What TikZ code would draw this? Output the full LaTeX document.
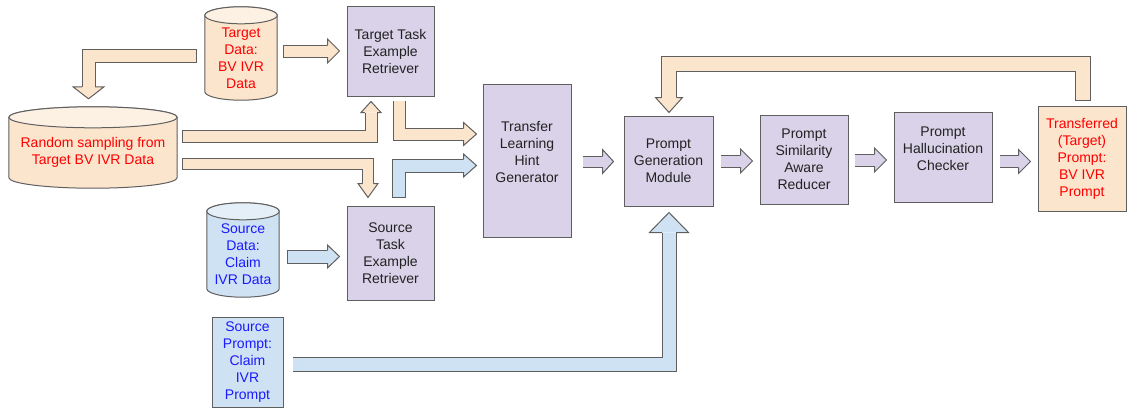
\documentclass[tikz,border=0pt]{standalone}
\usepackage{fontspec}
\setmainfont{Liberation Sans}
\usetikzlibrary{calc,backgrounds}

\definecolor{lav}{HTML}{D9D2E9}
\definecolor{orfill}{HTML}{FCE5CD}
\definecolor{blfill}{HTML}{CFE2F3}
\definecolor{rimgray}{HTML}{5F5F5F}
\definecolor{ink}{HTML}{222222}
\definecolor{redink}{HTML}{FF0000}
\definecolor{blueink}{HTML}{1A1AFF}

% body of a block arrow: fill colour, half width, centre line
\newcommand{\pipe}[3]{%
  \draw[draw=rimgray, line width={2*#2pt+1pt}, line join=miter] #3;
  \draw[draw=#1, line width={2*#2pt-1pt}, line join=miter, shorten <=0.5pt] #3;}
% head of a block arrow: fill, base point, angle, half body, half head, length
\newcommand{\tip}[6]{%
  \filldraw[arrowline, fill=#1, shift={(#2)}, rotate=#3]
    (0,#4) -- (0,#5) -- (#6,0) -- (0,-#5) -- (0,-#4);}
% cylinder round a node: node, y radius, body fill, cap fill
\newcommand{\drum}[4]{%
  \draw[arrowline, fill=#3] let \p1=(#1.north west), \p2=(#1.south east), \n1={(\x2-\x1)/2} in
    (\x1,\y1) -- (\x1,\y2+#2pt) arc[start angle=180, end angle=360, x radius=\n1, y radius=#2pt]
    -- (\x2,\y1) arc[start angle=0, end angle=180, x radius=\n1, y radius=#2pt] -- cycle;
  \draw[arrowline, fill=#4] let \p1=(#1.north west), \p2=(#1.south east), \n1={(\x2-\x1)/2} in
    (#1.north) ellipse[x radius=\n1, y radius=#2pt];}

\begin{document}
\begin{tikzpicture}[x=1pt, y=-1pt,
    box/.style={draw=rimgray, line width=1pt, fill=lav, text=ink, align=center,
      inner sep=0pt, font=\fontsize{14}{17}\selectfont},
    drumtext/.style={align=center, inner sep=0pt, font=\fontsize{14}{17}\selectfont},
    arrowline/.style={draw=rimgray, line width=1pt, line join=miter}]
  \useasboundingbox (0,0) rectangle (1127,410);

  % data stores and inputs
  \node[drumtext, text=redink, minimum width=72pt, minimum height=84.5pt] (tdata) at (241,57.75) {Target\\Data:\\BV IVR\\Data};
  \node[drumtext, text=redink, minimum width=168pt, minimum height=70.5pt] (rand) at (93,152.75) {Random sampling from\\Target BV IVR Data};
  \node[drumtext, text=blueink, minimum width=72pt, minimum height=85.5pt] (sdata) at (243,254.25) {Source\\Data:\\Claim\\IVR Data};
  \node[box, fill=blfill, text=blueink, minimum width=71pt, minimum height=90pt] (sprompt) at (247.5,362) {Source\\Prompt:\\Claim\\IVR\\Prompt};

  % pipeline blocks
  \node[box, minimum width=87pt, minimum height=90pt] (tter) at (390.5,51) {Target Task\\Example\\Retriever};
  \node[box, minimum width=87pt, minimum height=94pt] (ster) at (390.5,253) {Source\\Task\\Example\\Retriever};
  \node[box, minimum width=88pt, minimum height=153pt] (tlhg) at (527,160.5) {Transfer\\Learning\\Hint\\Generator\\\mbox{}};
  \node[box, minimum width=89pt, minimum height=90pt] (pgm) at (668.5,161) {Prompt\\Generation\\Module};
  \node[box, minimum width=88pt, minimum height=89pt] (psar) at (804,159.5) {Prompt\\Similarity\\Aware\\Reducer};
  \node[box, minimum width=98pt, minimum height=90pt] (phc) at (943,157) {Prompt\\Hallucination\\Checker\\\mbox{}};
  \node[box, fill=orfill, text=redink, minimum width=88pt, minimum height=105pt] (trans) at (1082,158.5) {Transferred\\(Target)\\Prompt:\\BV IVR\\Prompt};

  \begin{pgfonlayer}{background}
    \drum{tdata}{8.5}{orfill}{orfill!55!white}
    \drum{rand}{10.5}{orfill}{orfill!55!white}
    \drum{sdata}{8.5}{blfill}{blfill!55!white}
  \end{pgfonlayer}

  % straight arrows
  \pipe{orfill}{6}{($(tdata.east)+(6,-6.75)$) -- ($(tter.west)+(-19,0)$) coordinate (b1)}
  \tip{orfill}{b1}{0}{6}{12}{12}
  \pipe{blfill}{6.5}{($(sdata.east)+(8,2.25)$) -- ($(ster.west)+(-19,3.5)$) coordinate (b2)}
  \tip{blfill}{b2}{0}{6.5}{11.5}{12}
  \pipe{lav}{5.5}{($(tlhg.east)+(11,1)$) -- ($(pgm.west)+(-21,0.5)$) coordinate (b3)}
  \tip{lav}{b3}{0}{5.5}{12}{11}
  \pipe{lav}{6}{($(pgm.east)+(7,0)$) -- ($(psar.west)+(-19,1.5)$) coordinate (b4)}
  \tip{lav}{b4}{0}{6}{12}{12}
  \pipe{lav}{6}{($(psar.east)+(6,0.5)$) -- ($(phc.west)+(-19,3)$) coordinate (b5)}
  \tip{lav}{b5}{0}{6}{12}{12}
  \pipe{lav}{6}{($(phc.east)+(7,4.5)$) -- ($(trans.west)+(-19,3)$) coordinate (b6)}
  \tip{lav}{b6}{0}{6}{12}{12}

  % bent arrows
  \pipe{orfill}{6.5}{($(tdata.west)+(-8,-1.75)$) -| ($(rand.north)+(-4.5,-30.5)$) coordinate (b7)}
  \tip{orfill}{b7}{-90}{6.5}{15.5}{12}
  \pipe{orfill}{6}{($(rand.east)+(5,-16.25)$) -| ($(tter.south)+(-19.5,16)$) coordinate (b8)}
  \tip{orfill}{b8}{90}{6}{10}{11}
  \pipe{orfill}{5.5}{($(rand.east)+(5,10.75)$) -| ($(ster.north)+(-22.5,-22)$) coordinate (b9)}
  \tip{orfill}{b9}{-90}{5.5}{10}{14}
  \pipe{orfill}{6}{($(tter.south)+(8.5,4)$) |- ($(tlhg.west)+(-19,-26.5)$) coordinate (b10)}
  \tip{orfill}{b10}{0}{6}{11.5}{13}
  \pipe{blfill}{6.5}{($(ster.north)+(8.5,-8)$) |- ($(tlhg.west)+(-19,5)$) coordinate (b11)}
  \tip{blfill}{b11}{0}{6.5}{11.5}{13}
  \pipe{blfill}{7}{($(sprompt.east)+(9,2.5)$) -| ($(pgm.south)+(0.5,26)$) coordinate (b12)}
  \tip{blfill}{b12}{90}{7}{19.5}{20}
  \pipe{orfill}{7.5}{($(trans.north)+(1,-5)$) -- ++(0,-36.5) -| ($(pgm.north)+(0.5,-18)$) coordinate (b13)}
  \tip{orfill}{b13}{-90}{7.5}{13.5}{15}
\end{tikzpicture}
\end{document}
